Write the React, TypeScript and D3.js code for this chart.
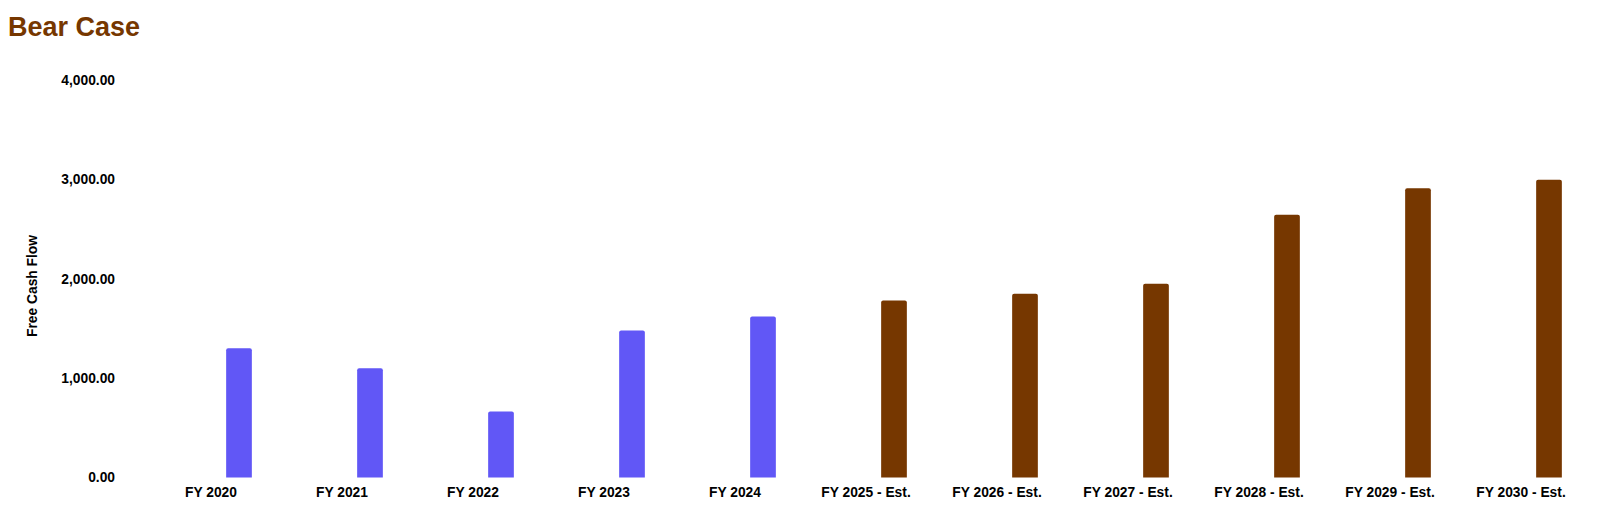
import React from "react";
import * as d3 from "d3";

const categories = [
  "FY 2020", "FY 2021", "FY 2022", "FY 2023", "FY 2024",
  "FY 2025 - Est.", "FY 2026 - Est.", "FY 2027 - Est.", "FY 2028 - Est.", "FY 2029 - Est.", "FY 2030 - Est.",
];
const values = [1300, 1100, 665, 1480, 1620, 1780, 1850, 1950, 2645, 2910, 2995];
const isEstimate = [false, false, false, false, false, true, true, true, true, true, true];
const yTicks = [0, 1000, 2000, 3000, 4000];

const W = 1609;
const H = 517;
const FONT = "'Liberation Sans', Arial, Helvetica, sans-serif";
const HIST = "#6157F6";
const EST = "#763700";

export default function App() {
  const x = d3.scaleBand<string>().domain(categories).range([145.5, 1586.5]).padding(0);
  const y = d3.scaleLinear().domain([0, 4000]).range([477.5, 80]);
  const fmt = d3.format(",.2f");
  const barW = 25.7;
  const barOffset = 28;
  const r = 2;

  const barPath = (x0: number, y0: number, w: number, h: number) => {
    const p = d3.path();
    const rr = Math.min(r, h / 2);
    p.moveTo(x0, y0 + h);
    p.lineTo(x0, y0 + rr);
    p.quadraticCurveTo(x0, y0, x0 + rr, y0);
    p.lineTo(x0 + w - rr, y0);
    p.quadraticCurveTo(x0 + w, y0, x0 + w, y0 + rr);
    p.lineTo(x0 + w, y0 + h);
    p.closePath();
    return p.toString();
  };

  return (
    <svg width={W} height={H} style={{ display: "block", position: "absolute", left: 0, top: 0 }} fontFamily={FONT}>
      <rect width={W} height={H} fill="#fff" />
      <text x={8} y={36} fontSize={27} fontWeight="bold" fill={EST}>Bear Case</text>
      <text
        transform={`translate(36.5,286) rotate(-90)`}
        textAnchor="middle"
        fontSize={13.8}
        fontWeight="bold"
        fill="#000"
      >Free Cash Flow</text>
      {yTicks.map((t) => (
        <text key={t} x={115} y={y(t)} dy="0.35em" textAnchor="end" fontSize={13.8} fontWeight="bold" fill="#000">
          {fmt(t)}
        </text>
      ))}
      {categories.map((c, i) => {
        const cx = (x(c) as number) + x.bandwidth() / 2;
        const x0 = cx + barOffset - barW / 2;
        const y0 = y(values[i]);
        return (
          <g key={c}>
            <path d={barPath(x0, y0, barW, y(0) - y0)} fill={isEstimate[i] ? EST : HIST} />
            <text x={cx} y={496.5} textAnchor="middle" fontSize={13.8} fontWeight="bold" fill="#000">{c}</text>
          </g>
        );
      })}
    </svg>
  );
}
